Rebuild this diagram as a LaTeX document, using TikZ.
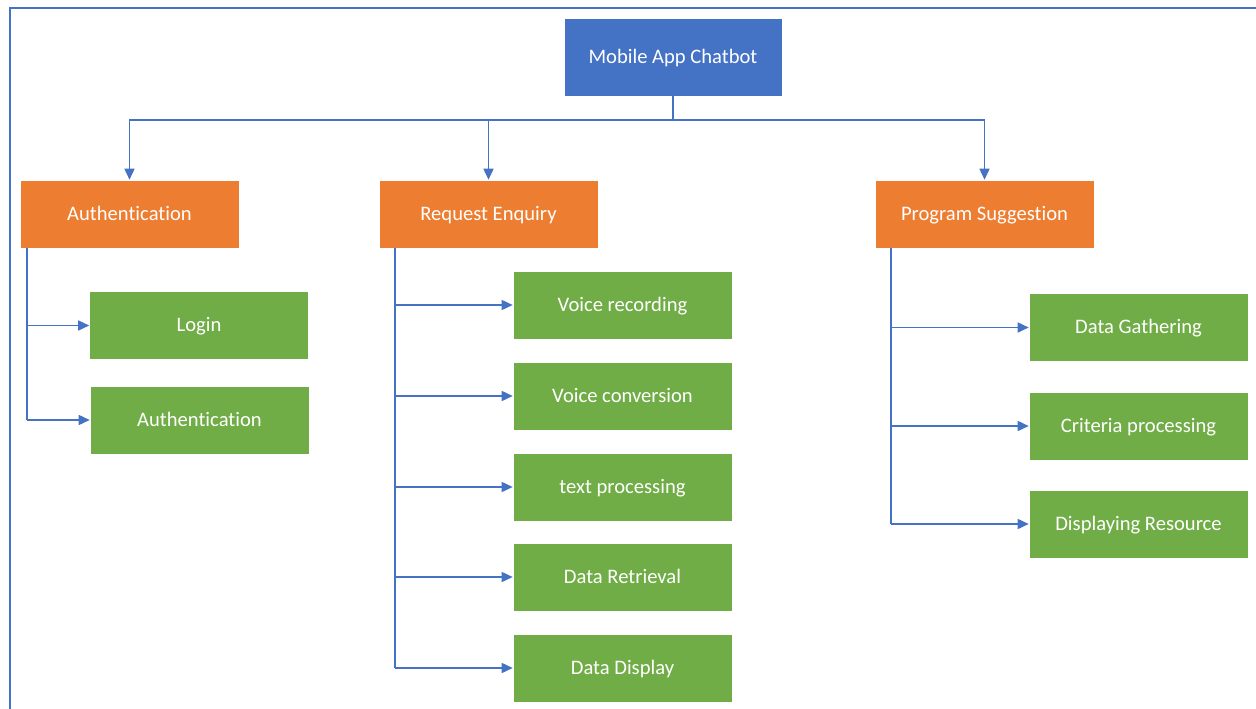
\documentclass[tikz,border=0pt]{standalone}
\usepackage{fontspec}
\setmainfont{Carlito}[Ligatures=NoCommon]
\usetikzlibrary{arrows.meta}
\definecolor{cblue}{HTML}{4472C4}
\definecolor{corange}{HTML}{ED7D31}
\definecolor{cgreen}{HTML}{70AD47}
\tikzset{
  box/.style={draw=white, line width=0.6pt, minimum width=219pt, minimum height=68pt,
    inner sep=0pt, text=white, font=\fontsize{20.6}{24}\selectfont, anchor=center,
    text depth=2pt},
  rootbox/.style={box, fill=cblue, minimum width=218pt, minimum height=78pt},
  groupbox/.style={box, fill=corange},
  leafbox/.style={box, fill=cgreen},
  link/.style={draw=cblue, line width=1.6pt},
  arrowlink/.style={link, -{Triangle[length=11pt,width=10pt]}}
}
\begin{document}
\begin{tikzpicture}[x=1pt,y=-1pt]
\useasboundingbox (0,0) rectangle (1256,709);
% frame
\draw[cblue, line width=2.5pt] (10,709) -- (10,8) -- (1256,8);

% root
\node[rootbox] (root) at (673,57) {Mobile App Chatbot};

% second level
\node[groupbox] (auth) at (129.5,214) {Authentication};
\node[groupbox] (req) at (488.5,214) {Request Enquiry};
\node[groupbox] (prog) at (984.5,214) {Program Suggestion};

% leaves under Authentication
\node[leafbox] (login) at (199,325.5) {Login};
\node[leafbox] (auth2) at (199.5,420) {Authentication};

% leaves under Request Enquiry
\node[leafbox] (vrec) at (622.5,305) {Voice recording};
\node[leafbox] (vconv) at (622.5,396) {Voice conversion};
\node[leafbox] (text) at (622.5,487) {text processing};
\node[leafbox] (dret) at (622.5,577) {Data Retrieval};
\node[leafbox] (ddisp) at (622.5,668) {Data Display};

% leaves under Program Suggestion
\node[leafbox] (dgat) at (1138.5,327.5) {Data Gathering};
\node[leafbox] (crit) at (1138.5,426) {Criteria processing};
\node[leafbox] (dres) at (1138.5,524) {Displaying Resource};

% bus from the root
\coordinate (bus) at (673,120);
\draw[link] (root.south) -- (bus);
\draw[arrowlink] (bus) -| (auth.north);
\draw[arrowlink] (bus) -| (req.north);
\draw[arrowlink] (bus) -| (prog.north);

% trunks
\coordinate (ta) at (27,248);
\coordinate (tr) at (395,248);
\coordinate (tp) at (891,248);
\draw[link] (ta) -- (ta |- auth2.west);
\draw[link] (tr) -- (tr |- ddisp.west);
\draw[link] (tp) -- (tp |- dres.west);

\foreach \n in {login,auth2}
  \draw[arrowlink] (ta |- \n.west) -- (\n.west);
\foreach \n in {vrec,vconv,text,dret,ddisp}
  \draw[arrowlink] (tr |- \n.west) -- (\n.west);
\foreach \n in {dgat,crit,dres}
  \draw[arrowlink] (tp |- \n.west) -- (\n.west);
\end{tikzpicture}
\end{document}
